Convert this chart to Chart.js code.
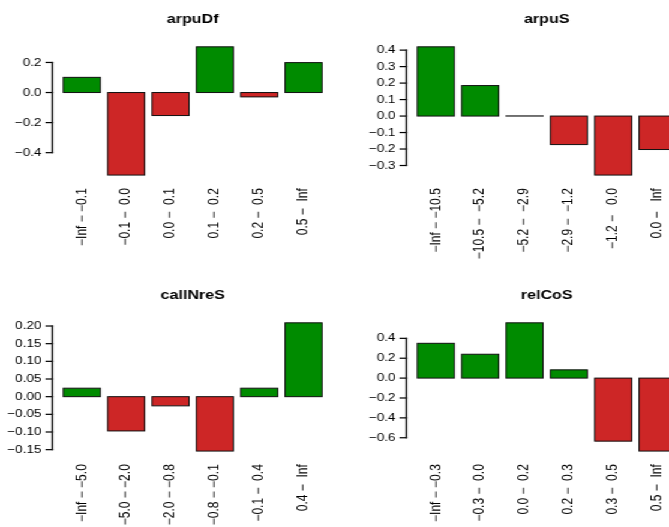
<!DOCTYPE html>
<html>
<head>
<meta charset="utf-8">
<script src="https://cdn.jsdelivr.net/npm/chart.js@4.4.1/dist/chart.umd.min.js"></script>
<style>
  html, body { margin: 0; padding: 0; background: #fff; width: 669px; height: 527px; overflow: hidden; }
  /* the sheet is laid out narrow and widened horizontally */
  #sheet { position: absolute; left: 0; top: 0; width: 590px; height: 553px; transform: scaleX(1.2); transform-origin: 0 0; }
  #sheet canvas { position: absolute; }
</style>
</head>
<body>
<div id="sheet"></div>
<script>
// ---- data ----
const arpuDfBins   = ["\u2212Inf \u2212 \u22120.1", "\u22120.1 \u2212  0.0", "0.0 \u2212  0.1", "0.1 \u2212  0.2", "0.2 \u2212  0.5", "0.5 \u2212  Inf"];
const arpuDfValues = [0.101, -0.549, -0.153, 0.304, -0.029, 0.199];
const arpuDfTicks  = [-0.4, -0.2, 0.0, 0.2];
const arpuDfTickLabels = ["\u22120.4", "\u22120.2", "0.0", "0.2"];

const arpuSBins   = ["\u2212Inf \u2212 \u221210.5", "\u221210.5 \u2212  \u22125.2", "\u22125.2 \u2212  \u22122.9", "\u22122.9 \u2212  \u22121.2", "\u22121.2 \u2212   0.0", "0.0 \u2212   Inf"];
const arpuSValues = [0.420, 0.185, 0.001, -0.173, -0.358, -0.203];
const arpuSTicks  = [-0.3, -0.2, -0.1, 0.0, 0.1, 0.2, 0.3, 0.4];
const arpuSTickLabels = ["\u22120.3", "\u22120.2", "\u22120.1", "0.0", "0.1", "0.2", "0.3", "0.4"];

const callNreSBins   = ["\u2212Inf \u2212 \u22125.0", "\u22125.0 \u2212 \u22122.0", "\u22122.0 \u2212 \u22120.8", "\u22120.8 \u2212 \u22120.1", "\u22120.1 \u2212  0.4", "0.4 \u2212  Inf"];
const callNreSValues = [0.024, -0.097, -0.026, -0.154, 0.024, 0.209];
const callNreSTicks  = [-0.15, -0.10, -0.05, 0.00, 0.05, 0.10, 0.15, 0.20];
const callNreSTickLabels = ["\u22120.15", "\u22120.10", "\u22120.05", "0.00", "0.05", "0.10", "0.15", "0.20"];

const relCoSBins   = ["\u2212Inf \u2212 \u22120.3", "\u22120.3 \u2212  0.0", "0.0 \u2212  0.2", "0.2 \u2212  0.3", "0.3 \u2212  0.5", "0.5 \u2212  Inf"];
const relCoSValues = [0.350, 0.240, 0.556, 0.083, -0.634, -0.734];
const relCoSTicks  = [-0.6, -0.4, -0.2, 0.0, 0.2, 0.4];
const relCoSTickLabels = ["\u22120.6", "\u22120.4", "\u22120.2", "0.0", "0.2", "0.4"];

// ---- look ----
const POS_FILL = "#008B00";
const NEG_FILL = "#CD2626";
const EDGE = "#111";
const AXIS = "#000";
const FONT = "'Liberation Sans', Arial, Helvetica, sans-serif";

const panels = [
  { title: "arpuDf",   bins: arpuDfBins,   values: arpuDfValues,   ticks: arpuDfTicks,   tickLabels: arpuDfTickLabels,   col: 0, row: 0 },
  { title: "arpuS",    bins: arpuSBins,    values: arpuSValues,    ticks: arpuSTicks,    tickLabels: arpuSTickLabels,    col: 1, row: 0 },
  { title: "callNreS", bins: callNreSBins, values: callNreSValues, ticks: callNreSTicks, tickLabels: callNreSTickLabels, col: 0, row: 1 },
  { title: "relCoS",   bins: relCoSBins,   values: relCoSValues,   ticks: relCoSTicks,   tickLabels: relCoSTickLabels,   col: 1, row: 1 }
];

// panel geometry (sheet units)
const COL_W = 294.6, ROW_H = 276.2;
const CANVAS_W = 295, CANVAS_H = 277;
const PLOT_LEFT = 44.2, PLOT_RIGHT_PAD = 18, PLOT_TOP = 41.7, X_AXIS_H = 96.8;
const TICK_LEN = 5, AXIS_W = 1.3, TICK_W = 1.2;

// base-graphics look: outlined bars, y axis spanning the end ticks, tick marks, bold title
const baseLook = {
  id: "baseLook",
  afterDatasetsDraw(chart) {
    const ctx = chart.ctx;
    ctx.save();
    ctx.strokeStyle = EDGE;
    ctx.lineWidth = 1;
    chart.getDatasetMeta(0).data.forEach(el => {
      const p = el.getProps(["x", "y", "base", "width"], true);
      const top = Math.min(p.y, p.base), h = Math.abs(p.base - p.y);
      ctx.strokeRect(p.x - p.width / 2, top, p.width, h);
    });
    ctx.restore();
  },
  afterDraw(chart, args, opts) {
    const ctx = chart.ctx, ys = chart.scales.y, area = chart.chartArea;
    const t = ys.ticks;
    const yFirst = ys.getPixelForValue(t[0].value);
    const yLast = ys.getPixelForValue(t[t.length - 1].value);
    const ax = area.left;
    ctx.save();
    ctx.fillStyle = AXIS;
    // axis line between the outer ticks
    ctx.fillRect(ax - AXIS_W, Math.min(yFirst, yLast) - TICK_W / 2, AXIS_W, Math.abs(yFirst - yLast) + TICK_W);
    // tick marks
    t.forEach(tk => {
      const py = ys.getPixelForValue(tk.value);
      ctx.fillRect(ax - AXIS_W - TICK_LEN, py - TICK_W / 2, TICK_LEN + AXIS_W, TICK_W);
    });
    // panel title
    ctx.font = "bold 13.4px " + FONT;
    ctx.textAlign = "center";
    ctx.textBaseline = "middle";
    ctx.fillText(opts.title, (area.left + area.right) / 2, area.top - 22.2);
    ctx.restore();
  }
};

const sheet = document.getElementById("sheet");

panels.forEach(pn => {
  const canvas = document.createElement("canvas");
  canvas.width = CANVAS_W;
  canvas.height = CANVAS_H;
  canvas.style.left = (pn.col * COL_W) + "px";
  canvas.style.top = (pn.row * ROW_H) + "px";
  sheet.appendChild(canvas);

  // barplot geometry: unit-wide bars separated by 0.2
  const centers = pn.values.map((v, i) => 0.7 + 1.2 * i);
  const xLo = 0.2, xHi = 0.2 + 1.2 * pn.values.length - 0.2;
  const xPad = (xHi - xLo) * 0.04;
  const lo = Math.min(0, ...pn.values), hi = Math.max(0, ...pn.values);
  const yPad = (hi - lo) * 0.04;

  new Chart(canvas, {
    type: "bar",
    data: {
      datasets: [{
        data: pn.values.map((v, i) => ({ x: centers[i], y: v })),
        backgroundColor: pn.values.map(v => v > 0 ? POS_FILL : NEG_FILL),
        borderWidth: 0,
        categoryPercentage: 1,
        barPercentage: 1 / 1.2
      }]
    },
    options: {
      responsive: false,
      animation: false,
      devicePixelRatio: 1,
      layout: { padding: { left: 0, right: PLOT_RIGHT_PAD, top: PLOT_TOP, bottom: 0 } },
      plugins: {
        legend: { display: false },
        tooltip: { enabled: false },
        baseLook: { title: pn.title }
      },
      scales: {
        x: {
          type: "linear",
          offset: false,
          min: xLo - xPad,
          max: xHi + xPad,
          afterBuildTicks: s => { s.ticks = centers.map(c => ({ value: c })); },
          afterFit: s => { s.height = X_AXIS_H; s.paddingLeft = 0; s.paddingRight = 0; },
          grid: { display: false, drawTicks: false },
          border: { display: false },
          ticks: {
            autoSkip: false,
            minRotation: 90,
            maxRotation: 90,
            padding: 8,
            color: "#000",
            font: { family: FONT, size: 12 },
            callback: (v, i) => pn.bins[i]
          }
        },
        y: {
          min: lo - yPad,
          max: hi + yPad,
          afterBuildTicks: s => { s.ticks = pn.ticks.map(v => ({ value: v })); },
          afterFit: s => { s.width = PLOT_LEFT; s.paddingTop = 0; s.paddingBottom = 0; },
          border: { display: false },
          grid: { display: false, drawTicks: false },
          ticks: {
            autoSkip: false,
            padding: TICK_LEN + 4.6,
            color: "#000",
            font: { family: FONT, size: 11.3 },
            callback: (v, i) => pn.tickLabels[i]
          }
        }
      }
    },
    plugins: [baseLook]
  });
});
</script>
</body>
</html>
